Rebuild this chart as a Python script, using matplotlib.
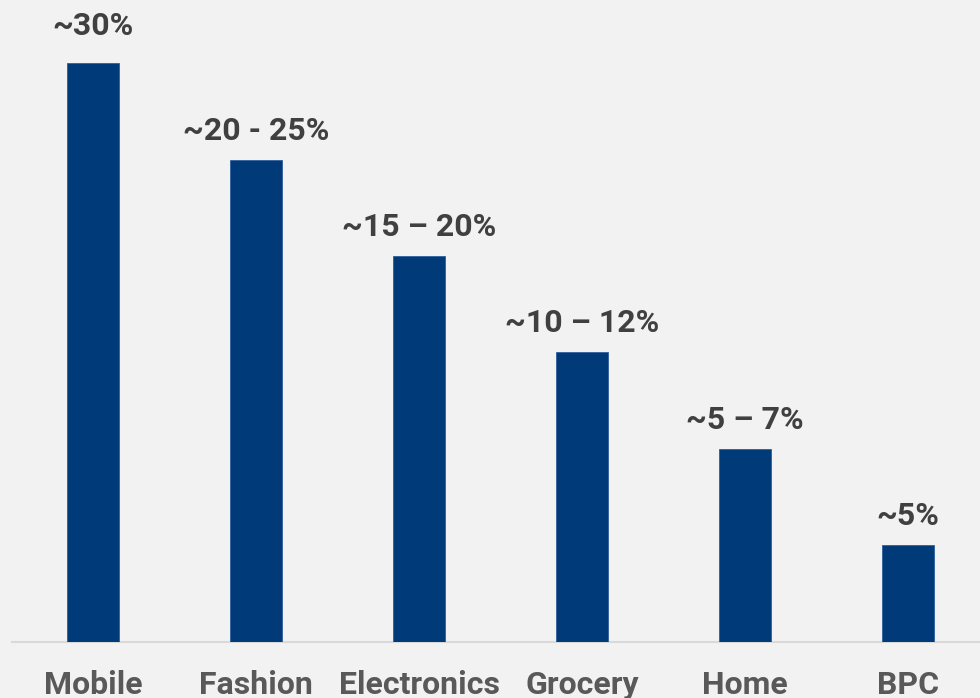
import matplotlib
matplotlib.use("Agg")
import matplotlib.pyplot as plt

categories = ["Mobile", "Fashion", "Electronics", "Grocery", "Home", "BPC"]
values = [30, 25, 20, 15, 10, 5]
labels = ["~30%", "~20 - 25%", "~15 – 20%", "~10 – 12%", "~5 – 7%", "~5%"]

bg = "#f2f2f2"
bar_color = "#003a78"
# gap (points) between bar top and label baseline
label_gaps_pt = [20.2, 14.6, 14.6, 14.6, 14.2, 14.4]

fig = plt.figure(figsize=(9.8, 6.98), dpi=100, facecolor=bg)
ax = fig.add_axes([11.5 / 980, (698 - 641.5) / 698, 978 / 980, 641.5 / 698])
ax.set_facecolor(bg)

x = list(range(len(categories)))
ax.bar(x, values, width=0.32, color=bar_color, edgecolor="#2f5f9a", linewidth=0.6, zorder=3)

for xi, v, lab, g in zip(x, values, labels, label_gaps_pt):
    ax.annotate(lab, (xi, v), xytext=(0, g), textcoords="offset points",
                ha="center", va="baseline", fontsize=23, fontweight="bold",
                color="#404040", family="Roboto")

ax.set_xlim(-0.5, 5.5)
ax.set_ylim(0, 641.5 / 578 * 30)
ax.set_yticks([])
ax.set_xticks(x)
ax.set_xticklabels(categories, fontsize=23, fontweight="bold", color="#595959", family="Roboto")
ax.tick_params(axis="x", length=0, pad=20.5)
for s in ["top", "right", "left"]:
    ax.spines[s].set_visible(False)
ax.spines["bottom"].set_color("#d9d9d9")
ax.spines["bottom"].set_linewidth(1.5)

fig.savefig("out.png", dpi=100, facecolor=bg)
